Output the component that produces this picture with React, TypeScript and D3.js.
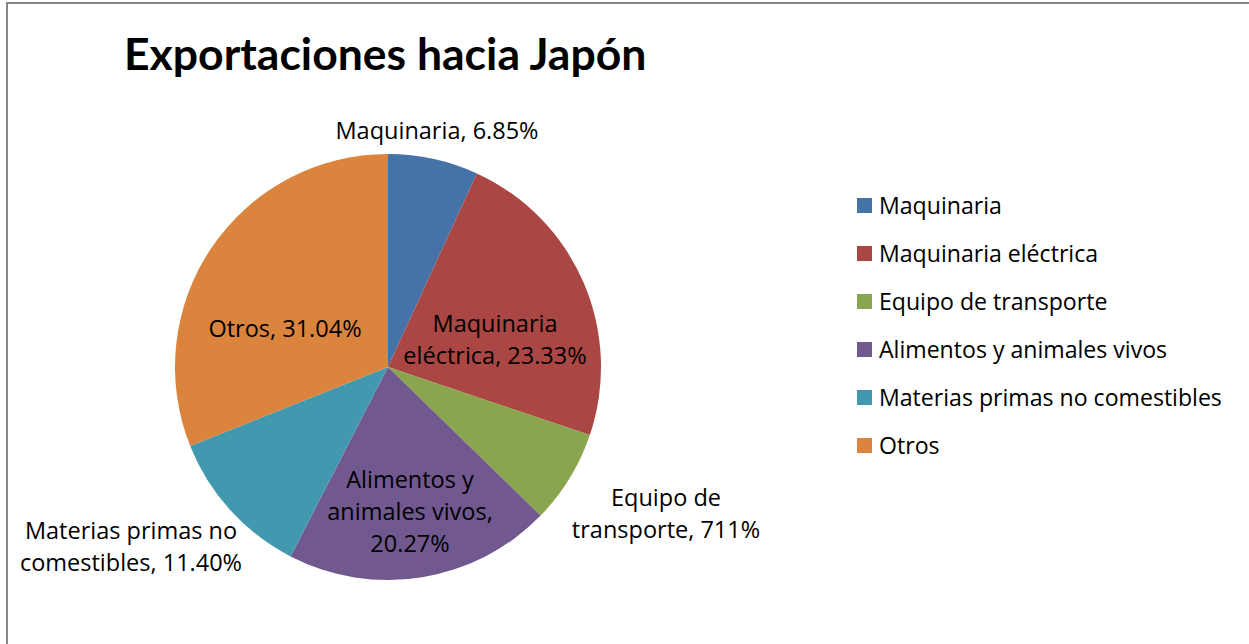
import React from "react";
import * as d3 from "d3";

const categories = [
  "Maquinaria",
  "Maquinaria eléctrica",
  "Equipo de transporte",
  "Alimentos y animales vivos",
  "Materias primas no comestibles",
  "Otros",
];
const values = [6.85, 23.33, 7.11, 20.27, 11.4, 31.04];
const labelLines = [
  ["Maquinaria, 6.85%"],
  ["Maquinaria", "eléctrica, 23.33%"],
  ["Equipo de", "transporte, 711%"],
  ["Alimentos y", "animales vivos,", "20.27%"],
  ["Materias primas no", "comestibles, 11.40%"],
  ["Otros, 31.04%"],
];
const colors = ["#4572A7", "#AA4643", "#89A54E", "#71588F", "#4198AF", "#DB843D"];
const title = "Exportaciones hacia Japón";

// label layout (offsets from pie centre, px)
const labelOffsets: [number, number][] = [
  [49, -236],
  [107, -27],
  [278, 147],
  [22, 145],
  [-257, 180],
  [-103, -38],
];

const W = 1249;
const H = 644;
const cx = 388;
const cy = 367;
const R = 213;
const FONT = "'Open Sans', Lato, sans-serif";

export default function App() {
  const pie = d3.pie<number>().sort(null).value((d) => d);
  const arcs = pie(values);
  const arc = d3.arc<d3.PieArcDatum<number>>().innerRadius(0).outerRadius(R);
  const lh = 32;
  return (
    <svg
      width={W}
      height={H}
      style={{ position: "absolute", left: 0, top: 0, display: "block", fontVariantLigatures: "none" }}
      fontFamily={FONT}
    >
      <rect x={0} y={0} width={W} height={H} fill="#fff" />
      <rect x={7} y={3} width={W + 20} height={H + 20} fill="none" stroke="#868686" strokeWidth={2} />
      <text x={124} y={70} fontSize={44.5} fontWeight="bold" fill="#000" fontFamily="Lato, sans-serif">
        {title}
      </text>
      <g transform={`translate(${cx},${cy})`}>
        {arcs.map((a, i) => (
          <path key={i} d={arc(a) || ""} fill={colors[i]} />
        ))}
        {arcs.map((a, i) => {
          const [dx, dy] = labelOffsets[i];
          const lines = labelLines[i];
          const y0 = dy - ((lines.length - 1) * lh) / 2;
          return (
            <text key={"l" + i} textAnchor="middle" fontSize={23.5} fill="#000">
              {lines.map((ln, j) => (
                <tspan key={j} x={dx} y={y0 + j * lh} dy="0.35em">
                  {ln}
                </tspan>
              ))}
            </text>
          );
        })}
      </g>
      <g transform="translate(857,198)">
        {categories.map((c, i) => (
          <g key={c} transform={`translate(0,${i * 48})`}>
            <rect x={0} y={0} width={15} height={15} fill={colors[i]} />
            <text x={22} y={7.5} dy="0.35em" fontSize={23.1} fill="#000">
              {c}
            </text>
          </g>
        ))}
      </g>
    </svg>
  );
}
